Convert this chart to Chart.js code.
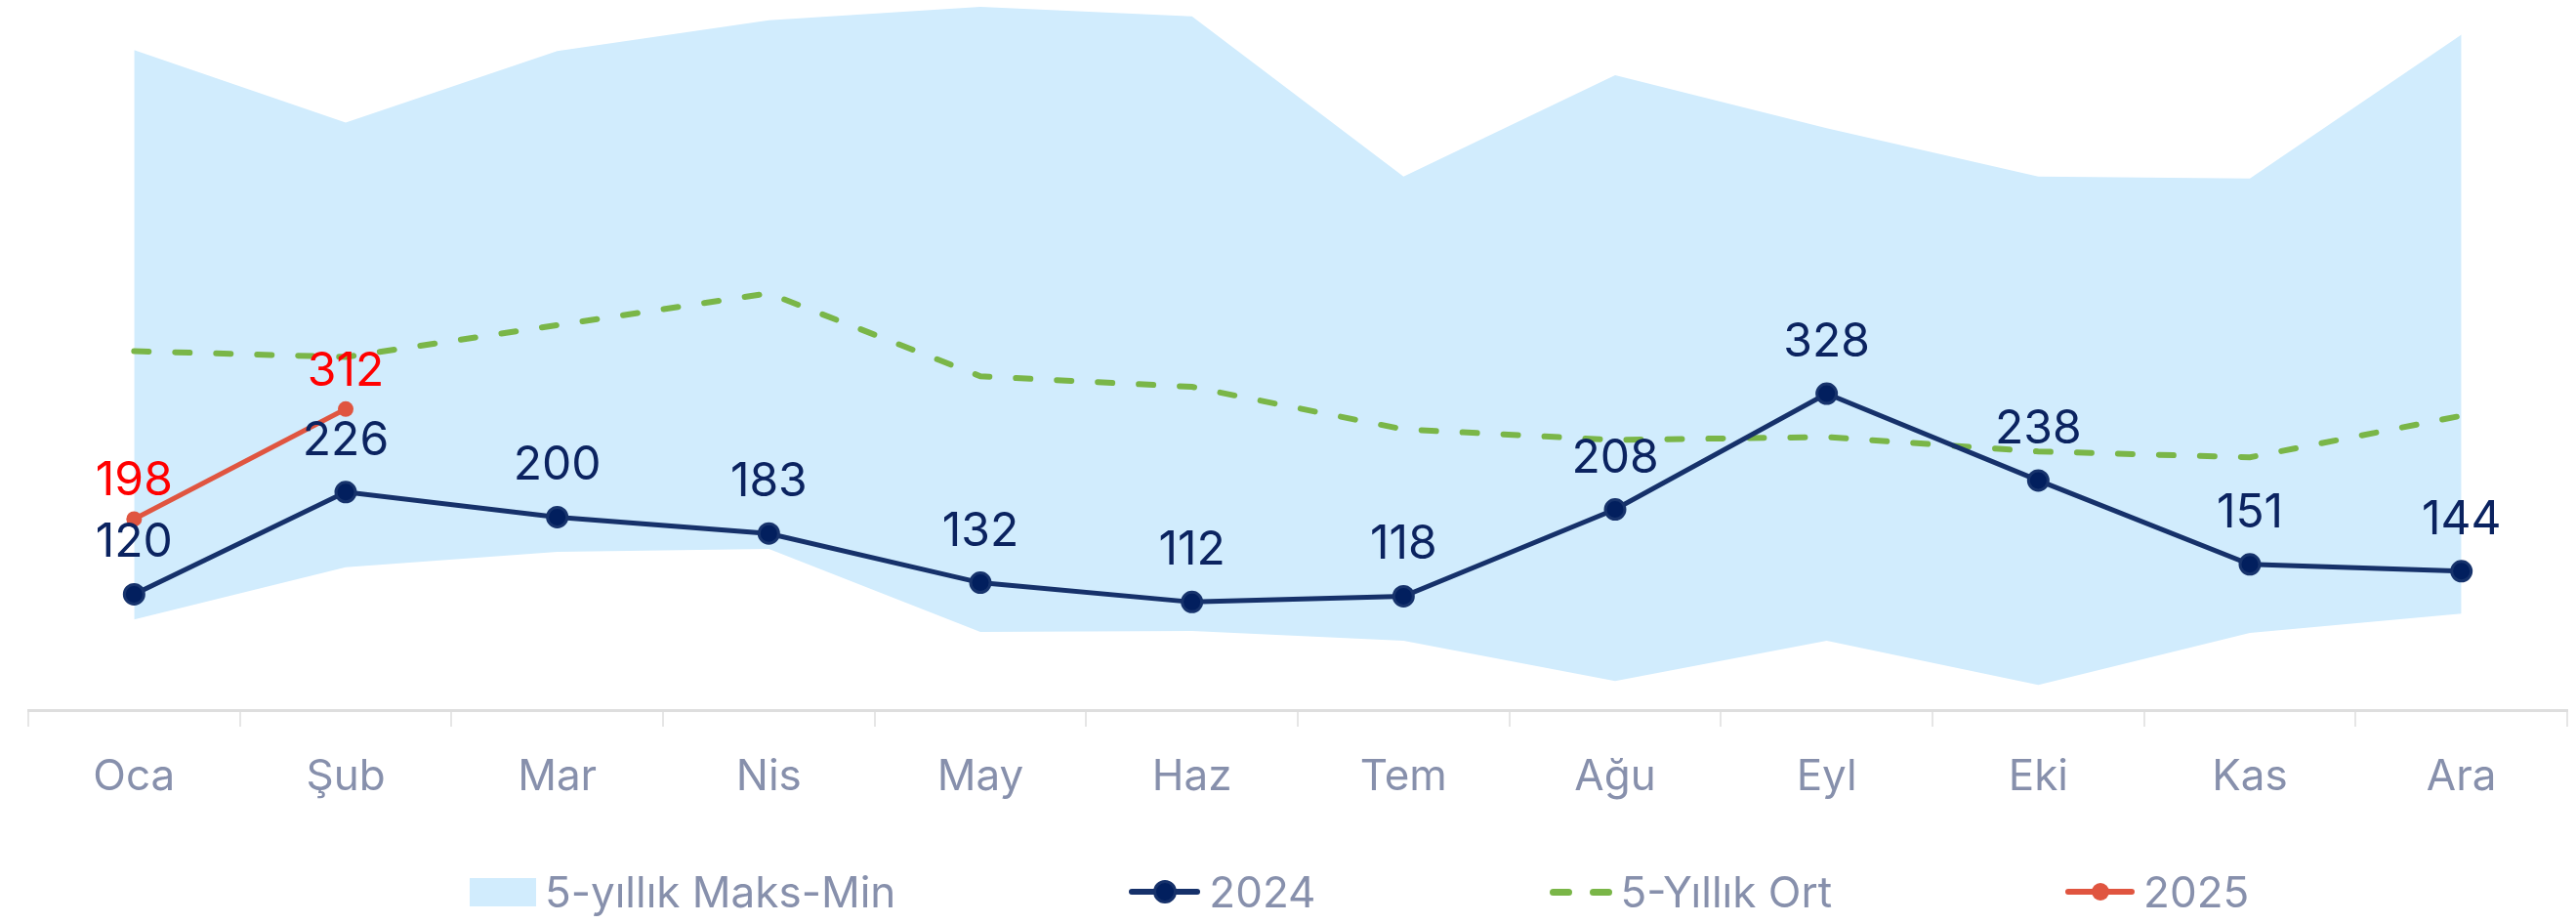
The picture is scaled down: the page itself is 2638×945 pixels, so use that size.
<!DOCTYPE html>
<html>
<head>
<meta charset="utf-8">
<script src="https://cdn.jsdelivr.net/npm/chart.js@4/dist/chart.umd.min.js"></script>
<style>
  body { margin: 0; background: #fff; }
  #wrap { position: relative; width: 2638px; height: 945px; }
  #legend {
    position: absolute; left: 481px; top: 885px; height: 56px;
    display: flex; align-items: center; gap: 239px;
    font-family: Inter, "Noto Sans", sans-serif; font-size: 44px; color: #8790ac;
  }
  .item { display: flex; align-items: center; gap: 9px; white-space: nowrap; }
  .box { width: 68px; height: 29px; background: #d1ecfd; }
  .mk { position: relative; width: 73px; height: 26px; }
  .mk .ln { position: absolute; left: 0; right: 0; top: 10px; height: 6px; border-radius: 3px; }
  .mk .dot { position: absolute; left: 50%; top: 50%; border-radius: 50%; transform: translate(-50%, -50%); }
  .dash { display: flex; gap: 18px; }
  .dash span { width: 23px; height: 7px; border-radius: 4px; background: #7ab648; }
</style>
</head>
<body>
<div id="wrap">
  <canvas id="myChart" width="2638" height="945"></canvas>
  <div id="legend">
    <div class="item"><div class="box"></div><span>5-yıllık Maks-Min</span></div>
    <div class="item"><div class="mk"><div class="ln" style="background:#16316a"></div><div class="dot" style="width:18px;height:18px;background:#021f5e;border:3px solid #16316a"></div></div><span>2024</span></div>
    <div class="item"><div class="dash"><span></span><span></span></div><span>5-Yıllık Ort</span></div>
    <div class="item"><div class="mk" style="width:71px"><div class="ln" style="background:#e05540"></div><div class="dot" style="width:18px;height:18px;background:#e05540"></div></div><span>2025</span></div>
  </div>
</div>
<script>
var months = ['Oca', 'Şub', 'Mar', 'Nis', 'May', 'Haz', 'Tem', 'Ağu', 'Eyl', 'Eki', 'Kas', 'Ara'];
var band5Max = [684, 609, 683, 715, 729, 719, 553, 658, 603, 553, 551, 700];
var band5Min = [94, 148, 164, 167, 81, 82, 72, 30, 72, 26, 80, 100];
var avg5 = [372, 366, 399, 432, 346, 335, 291, 280, 283, 268, 262, 305];
var y2024 = [120, 226, 200, 183, 132, 112, 118, 208, 328, 238, 151, 144];
var y2025 = [198, 312, null, null, null, null, null, null, null, null, null, null];

var FONT = 'Inter, "Noto Sans", sans-serif';

// draws the numbers above the points of the yearly series
var valueLabels = {
    id: 'valueLabels',
    afterDatasetsDraw: function(chart) {
        var ctx = chart.ctx;
        chart.data.datasets.forEach(function(ds, i) {
            if (!ds.valueColor) return;
            var meta = chart.getDatasetMeta(i);
            ctx.save();
            ctx.font = '48px ' + FONT;
            ctx.fillStyle = ds.valueColor;
            ctx.textAlign = 'center';
            ctx.textBaseline = 'alphabetic';
            meta.data.forEach(function(pt, j) {
                if (ds.data[j] == null) return;
                ctx.fillText(ds.data[j], pt.x, pt.y - ds.valueOffset);
            });
            ctx.restore();
        });
    }
};

var ctx = document.getElementById('myChart').getContext('2d');
var chart = new Chart(ctx, {
    type: 'line',
    data: {
        labels: months,
        datasets: [{
            label: '2025',
            data: y2025,
            borderColor: '#e05540',
            backgroundColor: '#e05540',
            borderWidth: 5,
            pointRadius: 8,
            pointBorderWidth: 0,
            pointBackgroundColor: '#e05540',
            valueColor: '#ff0000',
            valueOffset: 24,
            order: 0
        }, {
            label: '2024',
            data: y2024,
            borderColor: '#16316a',
            borderWidth: 5,
            pointRadius: 10,
            pointBorderWidth: 3,
            pointBorderColor: '#17336c',
            pointBackgroundColor: '#021f5e',
            valueColor: '#0b2360',
            valueOffset: 38,
            order: 1
        }, {
            label: '5-Yıllık Ort',
            data: avg5,
            borderColor: '#7ab648',
            borderWidth: 6,
            borderDash: [15, 27],
            borderCapStyle: 'round',
            pointRadius: 0,
            order: 2
        }, {
            label: '5-yıllık Min',
            data: band5Min,
            borderWidth: 0,
            pointRadius: 0,
            fill: false,
            order: 4
        }, {
            label: '5-yıllık Maks-Min',
            data: band5Max,
            borderWidth: 0,
            pointRadius: 0,
            backgroundColor: '#d1ecfd',
            fill: { target: 3 },
            order: 3
        }]
    },
    options: {
        responsive: false,
        animation: false,
        events: [],
        layout: {
            autoPadding: false,
            padding: { left: 29, right: 9, top: 0, bottom: 118 }
        },
        elements: { line: { tension: 0 } },
        plugins: {
            legend: { display: false },
            tooltip: { enabled: false }
        },
        scales: {
            x: {
                offset: true,
                afterFit: function(scale) { scale.height = 100; },
                grid: {
                    offset: true,
                    drawOnChartArea: false,
                    drawTicks: true,
                    tickLength: 17,
                    color: '#e6e6e6',
                    lineWidth: 2
                },
                border: { display: true, color: '#dedede', width: 3 },
                ticks: {
                    padding: 25,
                    color: '#8790ac',
                    font: { family: FONT, size: 44 }
                }
            },
            y: {
                display: false,
                min: 0,
                max: 736
            }
        }
    },
    plugins: [valueLabels]
});
</script>
</body>
</html>
